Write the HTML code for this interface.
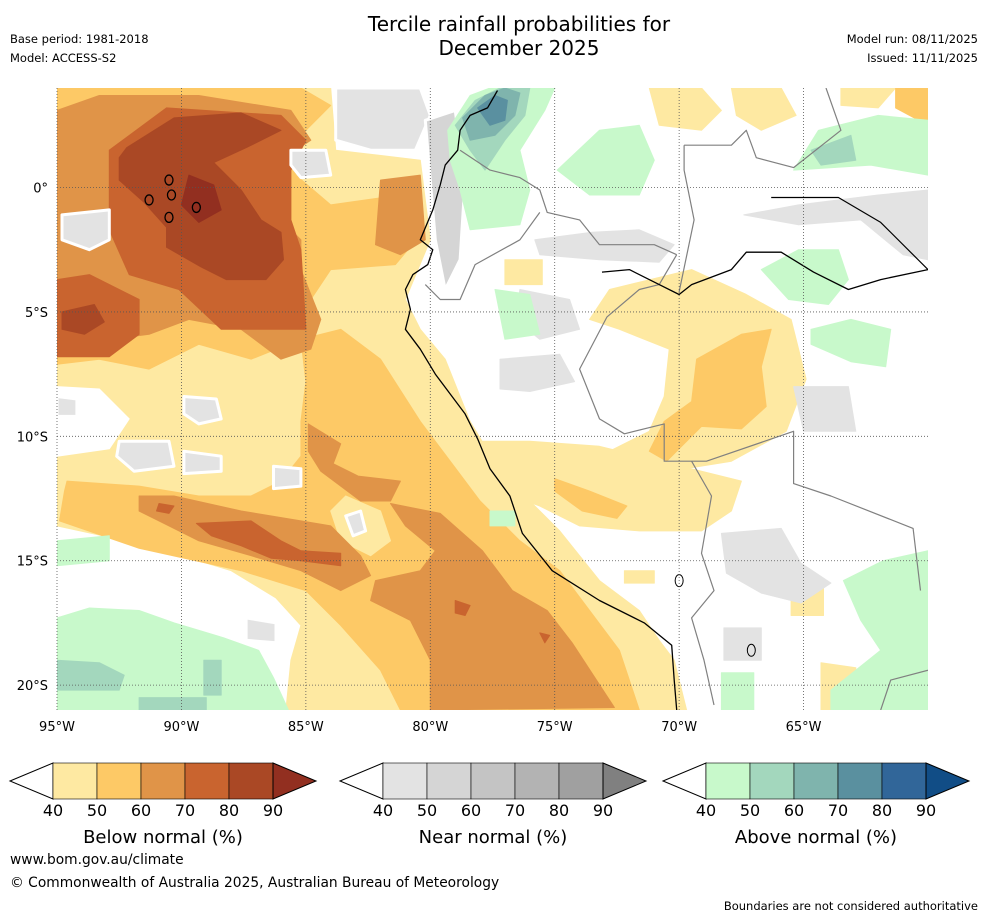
<!DOCTYPE html>
<html><head><meta charset="utf-8"><style>
body{margin:0;background:#fff;width:988px;height:919px;overflow:hidden;font-family:"Liberation Sans","DejaVu Sans",sans-serif;}
#wrap{position:relative;width:988px;height:919px;}
.t{position:absolute;white-space:nowrap;color:#000;font-family:"DejaVu Sans","Liberation Sans",sans-serif;}
</style></head><body><div id="wrap">
<div class="t" style="left:0;width:1038px;text-align:center;top:12px;font-size:20px;line-height:24px;">Tercile rainfall probabilities for<br>December 2025</div>
<div class="t" style="left:10px;top:32px;font-size:11.5px;">Base period: 1981-2018</div>
<div class="t" style="left:10px;top:51px;font-size:11.5px;">Model: ACCESS-S2</div>
<div class="t" style="right:10px;top:32px;font-size:11.5px;">Model run: 08/11/2025</div>
<div class="t" style="right:10px;top:51px;font-size:11.5px;">Issued: 11/11/2025</div>
<div class="t" style="left:10px;top:852px;font-size:13.8px;">www.bom.gov.au/climate</div>
<div class="t" style="left:10px;top:875px;font-size:13.8px;">© Commonwealth of Australia 2025, Australian Bureau of Meteorology</div>
<div class="t" style="right:10px;top:899px;font-size:11.5px;">Boundaries are not considered authoritative</div>
<svg id="svg" width="988" height="919" style="position:absolute;left:0;top:0"></svg>
</div>
<script>
// ---- data: polygons in [lon, lat] (deg, negative = W/S) ----
const lonTicks=[-95,-90,-85,-80,-75,-70,-65];
const latTicks=[0,-5,-10,-15,-20];
const lonLabels=["95°W","90°W","85°W","80°W","75°W","70°W","65°W"];
const latLabels=["0°","5°S","10°S","15°S","20°S"];
const cbTicks=[40,50,60,70,80,90];
const bn40Ocean=[[-95,4],[-84,4],[-83.8,1.5],[-80.4,1.1],[-80,-2.1],[-81,-4.5],[-80.4,-5.7],[-79.4,-6.9],[-78.4,-9.4],[-77.2,-11.4],[-76,-12.6],[-74.8,-13.8],[-73.2,-15.8],[-71.6,-17],[-70.8,-18.2],[-70.2,-19],[-69.7,-21],[-85.8,-21],[-85.6,-19],[-85.2,-17.6],[-86.2,-16.5],[-88,-15.4],[-91.3,-14.4],[-95,-13.6]];
const bn40Land1=[[-73.6,-5.3],[-72.8,-4.1],[-69.5,-3.3],[-67.3,-4.3],[-65.5,-5.3],[-64.9,-7.7],[-65.7,-9.8],[-67.9,-11],[-70.4,-11.4],[-73.2,-10.8],[-71.2,-9.8],[-70.6,-8.4],[-70.4,-6.5],[-72.4,-5.7]];
const bn40Land2=[[-78,-10.2],[-76,-10.2],[-73.2,-10.4],[-69.1,-11.4],[-67.5,-11.8],[-67.9,-13],[-69.1,-13.8],[-71.6,-13.8],[-74,-13.6],[-75.6,-12.8],[-77.2,-12.2],[-78,-11.4]];
const bn40Top1=[[-71.2,4],[-69.1,4],[-68.3,3.1],[-69.1,2.3],[-70.8,2.5]];
const bn40Top2=[[-67.9,4],[-65.9,4],[-65.3,2.9],[-66.7,2.3],[-67.7,2.9]];
const bn40Top3=[[-63.5,4],[-61.3,4],[-62,3.2],[-63.5,3.3]];
const bn40Small1=[[-77,-2.9],[-75.5,-2.9],[-75.5,-3.9],[-77,-3.9]];
const bn40Small2=[[-64.3,-19.1],[-62.9,-19.3],[-62.8,-21],[-64.3,-21]];
const bn40Small3=[[-65.5,-15.9],[-64.2,-15.9],[-64.2,-17.2],[-65.5,-17.2]];
const bn40Small4=[[-72.2,-15.4],[-71,-15.4],[-71,-15.9],[-72.2,-15.9]];
const bn40West=[[-95,-0.1],[-93.7,0.1],[-92.5,-0.7],[-92.7,-2.7],[-93.7,-3.3],[-95,-3.1]];
const bn40Pocket=[[-83.4,-12.4],[-82,-13],[-81.6,-14.2],[-82.4,-14.8],[-83.6,-14.2],[-84,-13]];
const bn50North=[[-95,4],[-85.2,4],[-84,3.3],[-85.2,2.1],[-85.4,0.5],[-84,-0.7],[-81.2,-0.3],[-80.4,-1.9],[-81.4,-3.1],[-84,-3.3],[-84.8,-4.5],[-85.2,-6.1],[-87.2,-6.9],[-89.3,-6.3],[-91.3,-7.3],[-93.3,-6.9],[-95,-7.1]];
const bn50South=[[-85.2,-6.1],[-83.6,-5.7],[-82,-6.9],[-80.4,-9.4],[-79.2,-11],[-78,-12.6],[-76.4,-14.2],[-74.8,-15.4],[-73.6,-17],[-72.4,-18.6],[-71.6,-21],[-81.2,-21],[-82,-19.4],[-83.6,-17.6],[-85,-16.2],[-87.6,-15.4],[-91.7,-14.5],[-94.9,-13.4],[-94.7,-12.2],[-94.6,-11.8],[-91.7,-12],[-89.3,-12.4],[-87.2,-12.4],[-86,-11.8],[-85.2,-10.8],[-85.2,-9.4],[-85,-7.8]];
const bn50Land=[[-69.3,-6.9],[-67.5,-5.9],[-66.3,-5.7],[-66.7,-7.2],[-66.5,-8.8],[-67.5,-9.7],[-69.1,-9.6],[-70.5,-11],[-71.2,-10.6],[-70.6,-9.4],[-69.5,-8.6]];
const bn50Land2=[[-75,-11.7],[-73.6,-12.2],[-72.1,-12.8],[-72.5,-13.3],[-73.9,-13],[-75,-12.2]];
const bn50TopRight=[[-61.3,4],[-60,4],[-60,2.5],[-61.3,3.2]];
const bn60North=[[-95,3.1],[-93.3,3.7],[-89.3,3.7],[-85.6,3.1],[-84.8,1.9],[-86,1.1],[-86.4,-0.9],[-85.2,-2.1],[-85.2,-3.3],[-84.4,-5.3],[-84.8,-6.5],[-86,-6.9],[-87.6,-5.7],[-89.7,-5.3],[-91.3,-5.9],[-92.9,-6.1],[-94.1,-6.5],[-95,-6.5]];
const bn60Coast=[[-82,0.3],[-80.4,0.5],[-80.2,-2.1],[-81.2,-2.7],[-82.2,-2.3]];
const bn60Tail=[[-91.7,-12.4],[-90.3,-12.4],[-87.6,-13],[-85.2,-13.4],[-84,-13.6],[-82.8,-14.8],[-82.4,-15.6],[-83.6,-16.2],[-85.2,-15.4],[-87.2,-14.8],[-89.3,-14.2],[-90.9,-13.4],[-91.7,-13]];
const bn60Column=[[-84.9,-9.5],[-83.6,-10.3],[-83.9,-11.1],[-82.9,-11.6],[-81.2,-11.8],[-81.6,-12.6],[-82.8,-12.6],[-84.4,-11.4],[-84.9,-10.6]];
const bn60South=[[-81.6,-12.7],[-79.6,-13.1],[-77.9,-14.6],[-76.7,-16.2],[-75.3,-17],[-74.3,-18.3],[-72.6,-20.9],[-80,-21],[-80,-19],[-80.8,-17.4],[-82.4,-16.6],[-82.2,-15.8],[-80.4,-15.4],[-79.8,-14.6],[-81,-13.6]];
const bn70North=[[-92.9,1.5],[-90.6,3.2],[-86,2.9],[-85,1.9],[-85.6,0.7],[-85.6,-1.3],[-85.2,-2.5],[-85,-5.7],[-88.4,-5.7],[-90.1,-4.1],[-92.1,-3.5],[-92.9,-1.7]];
const bn70West=[[-95,-3.7],[-93.7,-3.5],[-91.7,-4.5],[-91.7,-5.9],[-92.9,-6.8],[-95,-6.8]];
const bn70Tail=[[-89.4,-13.5],[-87.2,-13.4],[-86,-14.2],[-85.2,-14.6],[-83.6,-14.7],[-83.6,-15.2],[-85.2,-15],[-86.4,-14.9],[-87.6,-14.4],[-88.8,-14]];
const bn70Dot1=[[-90.9,-12.7],[-90.3,-12.8],[-90.5,-13.1],[-91,-13]];
const bn70Dot2=[[-79,-16.6],[-78.4,-16.8],[-78.6,-17.2],[-79,-17.1]];
const bn70Dot3=[[-75.6,-17.9],[-75.2,-18],[-75.4,-18.3]];
const bn80North=[[-92.2,1.6],[-90.3,2.8],[-87.6,3],[-86,2.3],[-87.4,1.6],[-88.7,1],[-87.6,-0.1],[-86.8,-1.3],[-86,-1.8],[-85.9,-2.9],[-86.6,-3.7],[-88.2,-3.7],[-89.2,-3.2],[-90.6,-2.4],[-90.6,-1.6],[-91.5,-0.6],[-92.5,0.3],[-92.5,1.2]];
const bn80West=[[-94.8,-5],[-93.5,-4.7],[-93.1,-5.4],[-93.9,-5.9],[-94.8,-5.7]];
const bn90Core=[[-89.7,0.5],[-88.7,0.1],[-88.4,-0.9],[-89.3,-1.4],[-90,-0.7]];
const nnOcean1=[[-83.8,4],[-80.4,4],[-80,2.9],[-80.6,1.5],[-82.4,1.5],[-83.8,1.9]];
const nnOcean2=[[-85.6,1.5],[-84.2,1.5],[-84,0.5],[-85.2,0.4],[-85.6,0.9]];
const nnOcean3=[[-94.8,-1.1],[-92.9,-0.9],[-92.9,-2.1],[-93.7,-2.5],[-94.8,-2.1]];
const nnOcean4=[[-92.5,-10.2],[-90.5,-10.2],[-90.3,-11.2],[-91.9,-11.4],[-92.6,-10.8]];
const nnOcean5=[[-89.9,-8.4],[-88.6,-8.5],[-88.4,-9.3],[-89.3,-9.5],[-89.9,-9.1]];
const nnOcean6=[[-89.9,-10.6],[-88.4,-10.8],[-88.4,-11.4],[-89.9,-11.5]];
const nnOcean7=[[-86.3,-11.2],[-85.2,-11.3],[-85.2,-12],[-86.3,-12.1]];
const nnOcean8=[[-83.4,-13.2],[-82.8,-13],[-82.6,-13.8],[-83.1,-14]];
const nnOcean9=[[-87.4,-17.3],[-86.2,-17.5],[-86.2,-18.3],[-87.4,-18.2]];
const nnOcean10=[[-94.4,-17.9],[-92.5,-17.9],[-92.5,-18.7],[-94.4,-18.5]];
const nnOcean11=[[-95,-8.4],[-94.2,-8.5],[-94.2,-9.2],[-95,-9.2]];
const nnCoastStrip=[[-80.2,2.7],[-79,3.1],[-78.6,0.3],[-78.8,-2.9],[-79.4,-4.1],[-79.8,-2.1],[-80,0.3]];
const nnLand1=[[-67.4,-1.1],[-65.2,-0.7],[-62,-0.3],[-60,-0.1],[-60,-2.9],[-61,-2.7],[-62.7,-1.3],[-65.2,-1.5]];
const nnLand2=[[-75.8,-2.1],[-73.5,-1.8],[-71.6,-1.7],[-70.2,-2.3],[-70.8,-3],[-73.2,-2.9],[-75.6,-2.7]];
const nnLand3=[[-76.4,-4.1],[-74.4,-4.5],[-74,-5.7],[-75.6,-6.1],[-76.6,-5.3]];
const nnLand4=[[-77.2,-6.9],[-74.8,-6.7],[-74.2,-7.8],[-76,-8.2],[-77.2,-8.1]];
const nnLand5=[[-65.4,-8],[-63.2,-8],[-62.9,-9.8],[-65,-9.8]];
const nnLand6=[[-68.3,-13.9],[-65.9,-13.7],[-65.1,-15.1],[-63.9,-15.9],[-65.1,-16.7],[-66.7,-16.3],[-68.1,-15.5]];
const nnLand7=[[-68.2,-17.7],[-66.7,-17.7],[-66.7,-19],[-68.2,-19]];
const whiteWest=[[-95,-8],[-93.3,-8.1],[-92.1,-9.3],[-92.9,-10.5],[-95,-10.8]];
const an40SW=[[-95,-17.3],[-93.7,-16.9],[-91.7,-17],[-90.3,-17.5],[-88.3,-18.1],[-86.9,-18.6],[-86.3,-19.7],[-85.7,-21],[-95,-21]];
const an40SWsmall=[[-95,-14.2],[-92.9,-14],[-92.9,-15],[-95,-15.2]];
const an40North=[[-79.3,2.3],[-78.4,3.7],[-77.6,4],[-75,4],[-75.4,3.1],[-76.4,1.5],[-76,-0.1],[-76.4,-1.5],[-78.4,-1.7],[-78.8,-0.1],[-79.2,1.1]];
const an40Land1=[[-74.9,0.7],[-73.2,2.3],[-71.6,2.5],[-71,1.1],[-71.6,-0.3],[-73.6,-0.3]];
const an40NE=[[-65.4,0.7],[-64.4,2.3],[-62,2.9],[-60,2.7],[-60,0.5],[-62.3,0.9]];
const an40Land2=[[-66.7,-3.3],[-65.2,-2.5],[-63.6,-2.5],[-63.2,-3.7],[-64,-4.7],[-65.6,-4.5]];
const an40Land3=[[-64.7,-5.7],[-63.1,-5.3],[-61.5,-5.7],[-61.7,-7.2],[-63.1,-7],[-64.7,-6.3]];
const an40SE=[[-63.4,-15.8],[-61.8,-15],[-60,-14.6],[-60,-21],[-63.9,-21],[-63.9,-20.2],[-61.9,-18.6],[-62.7,-17.4]];
const an40Land4=[[-68.3,-19.5],[-67,-19.5],[-67,-21],[-68.3,-21]];
const an40Land5=[[-77.4,-4.1],[-76,-4.3],[-75.6,-5.9],[-77,-6.1]];
const an40Coast=[[-77.6,-13],[-76.6,-13],[-76.6,-13.6],[-77.6,-13.6]];
const an50North=[[-79,2.5],[-78.2,3.5],[-77.2,4],[-76,4],[-76.2,2.9],[-77,1.9],[-77.8,0.7],[-78.4,1.5]];
const an50NE=[[-64.7,1.5],[-63.1,2.1],[-62.9,1.1],[-64.3,0.9]];
const an50SW1=[[-95,-19],[-93.3,-19.1],[-92.3,-19.6],[-92.5,-20.2],[-95,-20.2]];
const an50SW2=[[-89.1,-19],[-88.4,-19],[-88.4,-20.4],[-89.1,-20.4]];
const an50SW3=[[-91.7,-20.5],[-89,-20.5],[-89,-21],[-91.7,-21]];
const an60North=[[-78.7,2.8],[-77.8,3.7],[-77,4],[-76.4,3.8],[-76.6,2.9],[-77.4,2.1],[-78.4,1.9]];
const an70North=[[-78.1,3.2],[-77.4,3.7],[-76.9,3.5],[-77,2.7],[-77.6,2.5]];
const coastline=[[-77.3,3.9],[-77.7,3.2],[-78.4,2.9],[-78.8,2.3],[-78.9,1.5],[-79.4,0.9],[-79.6,0.1],[-79.9,-0.9],[-80.4,-2.1],[-79.9,-2.5],[-80.1,-3.1],[-80.7,-3.5],[-81,-4.1],[-80.8,-4.9],[-81,-5.7],[-80.4,-6.5],[-79.8,-7.5],[-79.2,-8.3],[-78.6,-9.1],[-78.1,-10.1],[-77.6,-11.3],[-76.8,-12.4],[-76.3,-13.9],[-75.1,-15.4],[-73.2,-16.6],[-71.4,-17.5],[-70.3,-18.4],[-70.2,-19.8],[-70.1,-21]];
const borderColEcu=[[-78.8,1.5],[-77.6,0.7],[-76.4,0.4],[-75.6,-0.1],[-75.3,-1],[-74,-1.3],[-73.2,-2.3],[-71,-2.3],[-70.1,-2.7]];
const borderEcuPer=[[-80.2,-3.9],[-79.6,-4.5],[-78.8,-4.5],[-78.2,-3.1],[-76.4,-2.1],[-75.6,-1]];
const borderPerBra=[[-70.1,-2.7],[-70.8,-3.9],[-71.6,-4.1],[-72.9,-5.2],[-74,-7.3],[-73.2,-9.3],[-72.2,-9.9],[-70.6,-9.5],[-70.6,-11],[-68.9,-11],[-65.4,-9.8],[-65.4,-11.9],[-63.9,-12.4],[-60.6,-13.7],[-60.3,-16.2]];
const borderPerBol=[[-69.5,-11],[-68.7,-12.4],[-69.1,-14.7],[-68.6,-16.2],[-69.5,-17.3],[-69,-19],[-68.6,-20.8]];
const borderColVen=[[-69.8,1.7],[-67.9,1.7],[-67.3,2.3],[-66.9,1.2],[-65.4,0.8],[-63.5,2.3],[-64.1,4]];
const borderColBra=[[-69.8,1.7],[-69.8,0.7],[-69.4,-1.3],[-70,-4.2]];
const borderSE=[[-61.9,-21],[-61.5,-19.8],[-60,-19.4]];
const riverAmazon=[[-73.1,-3.4],[-72,-3.3],[-70.8,-3.9],[-70,-4.3],[-69.5,-3.9],[-67.9,-3.3],[-67.3,-2.6],[-65.9,-2.6],[-64.6,-3.4],[-63.2,-4.1],[-61.9,-3.7],[-60,-3.3]];
const riverNegro=[[-66.3,-0.4],[-63.6,-0.4],[-61.9,-1.4],[-60,-3.3]];
const galapagosLon=[-91.3,-90.4,-89.4,-90.5,-90.5];
const galapagosLat=[-0.5,-0.3,-0.8,-1.2,0.3];
const lakeLon=[-70,-67.1];
const lakeLat=[-15.8,-18.6];

// ---- axes ----
const X0=57,X1=928,Y0=88,Y1=710,LON0=-95,LON1=-60,LAT0=4,LAT1=-21;
function xs(lon){return X0+(lon-LON0)/(LON1-LON0)*(X1-X0);}
function ys(lat){return Y0+(LAT0-lat)/(LAT0-LAT1)*(Y1-Y0);}
const NS="http://www.w3.org/2000/svg";
const svg=document.getElementById('svg');
function mk(tag,attrs,parent){const e=document.createElementNS(NS,tag);for(const k in attrs)e.setAttribute(k,attrs[k]);(parent||svg).appendChild(e);return e;}
function pts(a){return a.map(p=>xs(p[0]).toFixed(1)+','+ys(p[1]).toFixed(1)).join(' ');}

const defs=mk('defs',{});
const cp=mk('clipPath',{id:'mc'},defs);mk('rect',{x:X0,y:Y0,width:X1-X0,height:Y1-Y0},cp);
const g=mk('g',{'clip-path':'url(#mc)'});



function fill(arr,color,name,halo){
  const p=mk('polygon',{points:pts(arr),fill:color,stroke:halo?'#fff':color,'stroke-width':halo?3:1,'stroke-linejoin':'round'},g);
  
  
}
const C={b1:'#fee9a2',b2:'#fdc966',b3:'#e09448',b4:'#c9642f',b5:'#aa4825',b6:'#922f20',n1:'#e3e3e3',n2:'#d5d5d5',a1:'#c8f9cb',a2:'#a3d7bd',a3:'#7fb4ad',a4:'#5a90a0',a5:'#316699'};
[[bn40Ocean,'b1'],[bn40Land1,'b1'],[bn40Land2,'b1'],[bn40Top1,'b1'],[bn40Top2,'b1'],[bn40Top3,'b1'],[bn40Small1,'b1'],[bn40Small2,'b1'],[bn40Small3,'b1'],[bn40Small4,'b1'],
 [bn50North,'b2'],[bn50South,'b2'],[bn50Land,'b2'],[bn50Land2,'b2'],[bn50TopRight,'b2'],[bn40West,'b1'],[bn40Pocket,'b1'],
 [bn60North,'b3'],[bn60Coast,'b3'],[bn60Tail,'b3'],[bn60Column,'b3'],[bn60South,'b3'],
 [bn70North,'b4'],[bn70West,'b4'],[bn70Tail,'b4'],[bn70Dot1,'b4'],[bn70Dot2,'b4'],[bn70Dot3,'b4'],
 [bn80North,'b5'],[bn80West,'b5'],[bn90Core,'b6']].forEach(l=>fill(l[0],C[l[1]],'below-normal-region'));
fill(whiteWest,'#fff','no-signal-region');
[nnOcean1,nnOcean2,nnOcean3,nnOcean4,nnOcean5,nnOcean6,nnOcean7,nnOcean8,nnOcean9,nnOcean10,nnOcean11].forEach(a=>fill(a,C.n1,'near-normal-region',true));
fill(nnCoastStrip,C.n2,'near-normal-region',true);
[nnLand1,nnLand2,nnLand3,nnLand4,nnLand5,nnLand6,nnLand7].forEach(a=>fill(a,C.n1,'near-normal-region'));
[an40SW,an40SWsmall,an40North,an40Land1,an40NE,an40Land2,an40Land3,an40SE,an40Land4,an40Land5,an40Coast].forEach(a=>fill(a,C.a1,'above-normal-region'));
[an50North,an50NE,an50SW1,an50SW2,an50SW3].forEach(a=>fill(a,C.a2,'above-normal-region'));
fill(an60North,C.a3,'above-normal-region');
fill(an70North,C.a4,'above-normal-region');

// gridlines
lonTicks.forEach((lon,i)=>{
  const l=mk('line',{x1:xs(lon),x2:xs(lon),y1:Y0,y2:Y1,stroke:'#555','stroke-width':0.8,'stroke-dasharray':'1,2'});
  
  
  const t=mk('text',{x:xs(lon),y:Y1+21,'text-anchor':'middle','font-size':13,'font-family':'DejaVu Sans, Liberation Sans, sans-serif'});
  t.textContent=lonLabels[i];
  
  
});
latTicks.forEach((lat,i)=>{
  const l=mk('line',{x1:X0,x2:X1,y1:ys(lat),y2:ys(lat),stroke:'#555','stroke-width':0.8,'stroke-dasharray':'1,2'});
  
  
  const t=mk('text',{x:X0-9,y:ys(lat)+5,'text-anchor':'end','font-size':13,'font-family':'DejaVu Sans, Liberation Sans, sans-serif'});
  t.textContent=latLabels[i];
  
  
});
function line(arr,color,w,name){
  const p=mk('polyline',{points:pts(arr),fill:'none',stroke:color,'stroke-width':w,'stroke-linejoin':'round'},g);
  
  
}
[borderColEcu,borderEcuPer,borderPerBra,borderPerBol,borderColVen,borderColBra,borderSE].forEach(a=>line(a,'#808080',1.2,'country-border'));
line(coastline,'#000',1.3,'coastline');
line(riverAmazon,'#000',1.3,'amazon-river');
line(riverNegro,'#000',1.2,'negro-river');
galapagosLon.forEach((lon,i)=>{
  const e=mk('ellipse',{cx:xs(lon),cy:ys(galapagosLat[i]),rx:4,ry:5,fill:'none',stroke:'#000','stroke-width':1.3},g);
  
  
});
lakeLon.forEach((lon,i)=>{
  const e=mk('ellipse',{cx:xs(lon),cy:ys(lakeLat[i]),rx:4,ry:6,fill:'none',stroke:'#000','stroke-width':1},g);
  
  
});

// colorbars
const bars=[
 {x:10,cols:['#fee9a2','#fdc966','#e09448','#c9642f','#aa4825'],end:'#922f20',title:'Below normal (%)',name:'below-normal-colorbar'},
 {x:340,cols:['#e3e3e3','#d5d5d5','#c4c4c4','#b3b3b3','#a0a0a0'],end:'#808080',title:'Near normal (%)',name:'near-normal-colorbar'},
 {x:663,cols:['#c8f9cb','#a3d7bd','#7fb4ad','#5a909f','#316699'],end:'#114d86',title:'Above normal (%)',name:'above-normal-colorbar'}];
const BW=44,BT=763,BB=799;
bars.forEach(b=>{
  const cg=mk('g',{});
  
  
  const s=b.x+43;
  mk('polygon',{points:`${b.x},${(BT+BB)/2} ${s},${BT} ${s},${BB}`,fill:'#fff',stroke:'#000','stroke-width':1},cg);
  b.cols.forEach((c,i)=>mk('rect',{x:s+i*BW,y:BT,width:BW,height:BB-BT,fill:c,stroke:'#000','stroke-width':0.6},cg));
  const e=s+5*BW;
  mk('polygon',{points:`${e},${BT} ${e+43},${(BT+BB)/2} ${e},${BB}`,fill:b.end,stroke:'#000','stroke-width':1},cg);
  cbTicks.forEach((v,i)=>{const t=mk('text',{x:s+i*BW,y:BB+17,'text-anchor':'middle','font-size':16,'font-family':'DejaVu Sans, Liberation Sans, sans-serif'},cg);t.textContent=v;});
  const tt=mk('text',{x:s+2.5*BW,y:843,'text-anchor':'middle','font-size':18,'font-family':'DejaVu Sans, Liberation Sans, sans-serif'},cg);
  tt.textContent=b.title;
});
</script></body></html>
